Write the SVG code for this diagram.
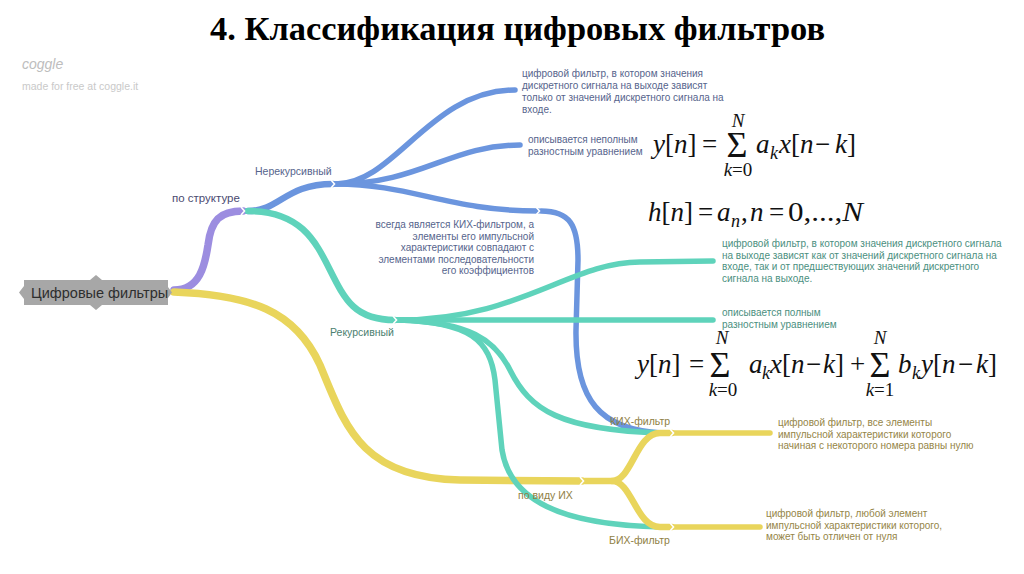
<svg xmlns="http://www.w3.org/2000/svg" width="1024" height="574" viewBox="0 0 1024 574">
<defs>
<style>
.c{fill:none;stroke-linecap:round;stroke-linejoin:round}
.p{stroke:#9c8de0}
.b{stroke:#6b95de}
.t{stroke:#5fd3bb}
.y{stroke:#e9d55c}
.w1{stroke-width:7.5}
.w2{stroke-width:6.5}
.w3{stroke-width:5.5}
.ch{fill:none;stroke:#fff;stroke-width:1.6}
.s{font-family:"Liberation Sans",Arial,sans-serif}
.tb{fill:#56648c;font-size:10px}
.tt{fill:#4b8f80;font-size:10px}
.ty{fill:#958547;font-size:10px}
.m{font-family:"Liberation Serif","Times New Roman",serif;font-size:27px;fill:#111}
.sg{font-family:"Liberation Serif","Times New Roman",serif;font-size:36px;fill:#111}
.lim{font-family:"Liberation Serif","Times New Roman",serif;font-size:19px;fill:#111;font-style:italic}
.sub{font-family:"Liberation Serif","Times New Roman",serif;font-size:18px;fill:#111;font-style:italic}
.i{font-style:italic}
</style>
</defs>
<rect width="1024" height="574" fill="#fff"/>
<text x="210" y="40" font-family="Liberation Serif, Times New Roman, serif" font-weight="bold" font-size="34" fill="#000" textLength="615" lengthAdjust="spacingAndGlyphs">4. Классификация цифровых фильтров</text>
<g id="watermark" class="s">
<text x="22" y="69" font-size="14" font-style="italic" fill="#bdbdbd">coggle</text>
<text x="22" y="90" font-size="10.5" fill="#c9c9c9">made for free at coggle.it</text>
</g>
<g id="connectors">
<path class="c p w1" d="M174,290 C200,290 205,265 208,245 C211,220 220,211 243,211"/>
<path class="c y w1" d="M174,292 C250,295 295,310 320,365 C345,425 360,478 460,480 L582,481"/>
<path class="c b w2" d="M248,211 C280,211 285,184 333,184"/>
<path class="c t w2" d="M248,211 C300,211 315,240 330,270 C345,300 355,320 395,320"/>
<path class="c b w3" d="M336,184 C395,184 430,90 515,90"/>
<path class="c b w3" d="M336,184 C420,184 450,145 520,145"/>
<path class="c b w3" d="M336,184 C410,184 450,211 538,211"/>
<path class="c b w3" d="M541,211 C570,211 578,225 578,260 L576,330 C575,400 600,430 662,433"/>
<path class="c t w3" d="M398,320 C520,320 570,262 640,262 L713,261"/>
<path class="c t w3" d="M398,320 L713,320"/>
<path class="c t w3" d="M398,320 C470,322 495,340 510,370 C530,410 560,430 662,433"/>
<path class="c t w3" d="M398,320 C470,322 490,340 495,380 L502,450 C510,500 560,525 662,527"/>
<path class="c y w2" d="M585,481 L612,481 C632,481 636,433 660,433 L672,433"/>
<path class="c y w2" d="M612,481 C632,481 636,527 660,527 L672,527"/>
<path class="c y w3" d="M675,433 L770,433"/>
<path class="c y w3" d="M675,527 L760,527"/>
<polyline class="ch" points="241,207 244.5,211 241,215"/>
<polyline class="ch" points="331,180 334.5,184 331,188"/>
<polyline class="ch" points="536,207 539.5,211 536,215"/>
<polyline class="ch" points="393,316 396.5,320 393,324"/>
<polyline class="ch" points="580,477 583.5,481 580,485"/>
<polyline class="ch" points="670,429 673.5,433 670,437"/>
<polyline class="ch" points="670,523 673.5,527 670,531"/>
</g>
<g id="root">
<path d="M24,280 H90 L96,275 L102,280 H168 V287 L172,292.5 L168,298 V305 H102 L96,310 L90,305 H24 V299 L19,292.5 L24,286 Z" fill="#a7a7a7"/>
<text class="s" x="31" y="297.5" font-size="14.5" fill="#2e2e2e">Цифровые фильтры</text>
</g>
<g id="po-strukture"><text class="s" x="172" y="202" font-size="11.5" fill="#4a4a70">по структуре</text></g>
<g id="nerekursivny"><text class="s" x="255" y="175" font-size="10.5" fill="#56648c">Нерекурсивный</text></g>
<g id="rekursivny"><text class="s" x="330" y="336" font-size="10.5" fill="#4b8070">Рекурсивный</text></g>
<g id="po-vidu-ih"><text class="s" x="518" y="499" font-size="10.5" fill="#8f7f45">по виду ИХ</text></g>
<g id="kih"><text class="s" x="610" y="425" font-size="10.5" fill="#8f7f45">КИХ-фильтр</text></g>
<g id="bih"><text class="s" x="609" y="544" font-size="10.5" fill="#8f7f45">БИХ-фильтр</text></g>
<g id="nerek-def" class="s tb">
<text x="522" y="77">цифровой фильтр, в котором значения</text>
<text x="522" y="89">дискретного сигнала на выходе зависят</text>
<text x="522" y="101">только от значений дискретного сигнала на</text>
<text x="522" y="113">входе.</text>
</g>
<g id="nerek-eq" class="s tb">
<text x="528" y="143">описывается неполным</text>
<text x="528" y="155">разностным уравнением</text>
</g>
<g id="nerek-kih" class="s tb" text-anchor="end">
<text x="534" y="228">всегда является КИХ-фильтром, а</text>
<text x="534" y="239.5">элементы его импульсной</text>
<text x="534" y="251">характеристики совпадают с</text>
<text x="534" y="262.5">элементами последовательности</text>
<text x="534" y="274">его коэффициентов</text>
</g>
<g id="rek-def" class="s tt">
<text x="722" y="247">цифровой фильтр, в котором значения дискретного сигнала</text>
<text x="722" y="258.5">на выходе зависят как от значений дискретного сигнала на</text>
<text x="722" y="270">входе, так и от предшествующих значений дискретного</text>
<text x="722" y="281.5">сигнала на выходе.</text>
</g>
<g id="rek-eq" class="s tt">
<text x="722" y="316">описывается полным</text>
<text x="722" y="328">разностным уравнением</text>
</g>
<g id="kih-def" class="s ty">
<text x="778" y="426">цифровой фильтр, все элементы</text>
<text x="778" y="437.5">импульсной характеристики которого</text>
<text x="778" y="449">начиная с некоторого номера равны нулю</text>
</g>
<g id="bih-def" class="s ty">
<text x="766" y="517">цифровой фильтр, любой элемент</text>
<text x="766" y="528.5">импульсной характеристики которого,</text>
<text x="766" y="540">может быть отличен от нуля</text>
</g>
<g id="formula-fir">
<text class="m" x="653" y="153"><tspan class="i">y</tspan>[<tspan class="i">n</tspan>]</text>
<text class="m" x="702" y="153">=</text>
<text class="sg" x="737" y="157" text-anchor="middle">Σ</text>
<text class="lim" x="738" y="127" text-anchor="middle">N</text>
<text class="lim" x="738" y="176" text-anchor="middle">k<tspan font-style="normal">=0</tspan></text>
<text class="m i" x="756" y="153">a</text>
<text class="sub" x="770" y="159">k</text>
<text class="m" x="779" y="153"><tspan class="i">x</tspan>[<tspan class="i">n</tspan></text>
<text class="m" x="815" y="153">−</text>
<text class="m" x="835" y="153"><tspan class="i">k</tspan>]</text>
</g>
<g id="formula-h">
<text class="m" x="648" y="221"><tspan class="i">h</tspan>[<tspan class="i">n</tspan>]</text>
<text class="m" x="698" y="221">=</text>
<text class="m i" x="717" y="221">a</text>
<text class="sub" x="731" y="227">n</text>
<text class="m" x="741" y="221">,</text>
<text class="m i" x="750" y="221">n</text>
<text class="m" x="769" y="221">=</text>
<text class="m" x="788" y="221" textLength="75" lengthAdjust="spacingAndGlyphs">0,...,<tspan class="i">N</tspan></text>
</g>
<g id="formula-iir">
<text class="m" x="637" y="373"><tspan class="i">y</tspan>[<tspan class="i">n</tspan>]</text>
<text class="m" x="689" y="373">=</text>
<text class="sg" x="720" y="377" text-anchor="middle">Σ</text>
<text class="lim" x="722" y="344" text-anchor="middle">N</text>
<text class="lim" x="723" y="396" text-anchor="middle">k<tspan font-style="normal">=0</tspan></text>
<text class="m i" x="749" y="373">a</text>
<text class="sub" x="762" y="379">k</text>
<text class="m" x="770" y="373"><tspan class="i">x</tspan>[<tspan class="i">n</tspan></text>
<text class="m" x="806" y="373">−</text>
<text class="m" x="823" y="373"><tspan class="i">k</tspan>]</text>
<text class="m" x="850" y="373">+</text>
<text class="sg" x="880" y="377" text-anchor="middle">Σ</text>
<text class="lim" x="880" y="344" text-anchor="middle">N</text>
<text class="lim" x="880" y="396" text-anchor="middle">k<tspan font-style="normal">=1</tspan></text>
<text class="m i" x="898" y="373">b</text>
<text class="sub" x="912" y="379">k</text>
<text class="m" x="921" y="373"><tspan class="i">y</tspan>[<tspan class="i">n</tspan></text>
<text class="m" x="958" y="373">−</text>
<text class="m" x="976" y="373"><tspan class="i">k</tspan>]</text>
</g>
</svg>
